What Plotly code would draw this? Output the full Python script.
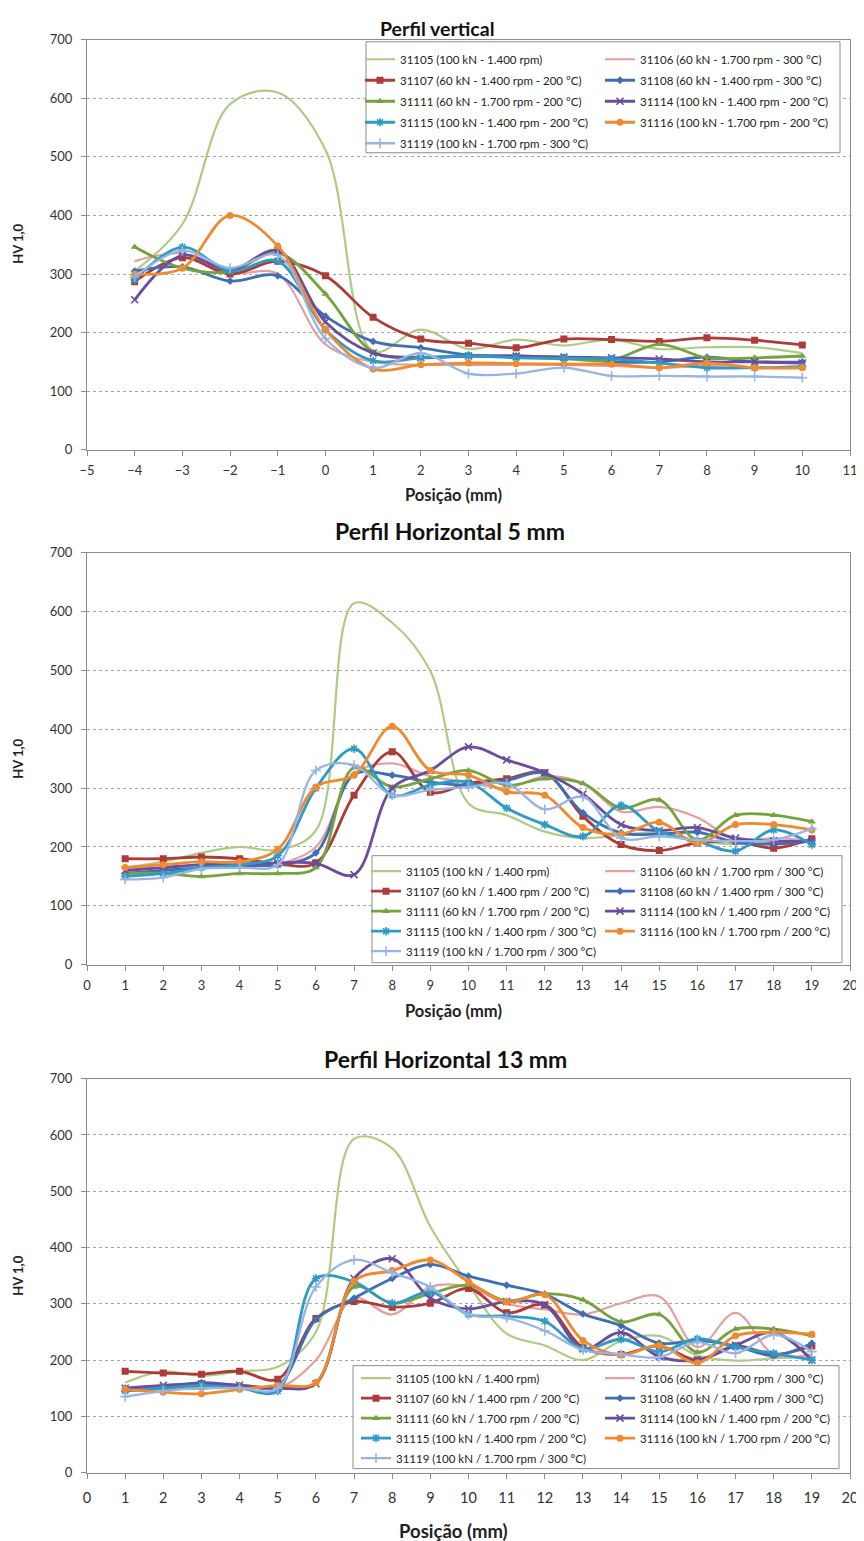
import plotly.graph_objects as go

# ---------------- DATA ----------------
x_vert = [-4, -3, -2, -1, 0, 1, 2, 3, 4, 5, 6, 7, 8, 9, 10]
x_horiz = list(range(1, 20))

series_ids = ["31105", "31106", "31107", "31108", "31111", "31114", "31115", "31116", "31119"]

names_vert = [
    "31105 (100 kN - 1.400 rpm)",
    "31106 (60 kN - 1.700 rpm - 300 °C)",
    "31107 (60 kN - 1.400 rpm - 200 °C)",
    "31108 (60 kN - 1.400 rpm - 300 °C)",
    "31111 (60 kN - 1.700 rpm - 200 °C)",
    "31114 (100 kN - 1.400 rpm - 200 °C)",
    "31115 (100 kN - 1.400 rpm - 200 °C)",
    "31116 (100 kN - 1.700 rpm - 200 °C)",
    "31119 (100 kN - 1.700 rpm - 300 °C)",
]
names_horiz = [
    "31105 (100 kN / 1.400 rpm)",
    "31106 (60 kN / 1.700 rpm / 300 °C)",
    "31107 (60 kN / 1.400 rpm / 200 °C)",
    "31108 (60 kN / 1.400 rpm / 300 °C)",
    "31111 (60 kN / 1.700 rpm / 200 °C)",
    "31114 (100 kN / 1.400 rpm / 200 °C)",
    "31115 (100 kN / 1.400 rpm / 300 °C)",
    "31116 (100 kN / 1.700 rpm / 200 °C)",
    "31119 (100 kN / 1.700 rpm / 300 °C)",
]
names_horiz13 = [
    "31105 (100 kN / 1.400 rpm)",
    "31106 (60 kN / 1.700 rpm / 300 °C)",
    "31107 (60 kN / 1.400 rpm / 200 °C)",
    "31108 (60 kN / 1.400 rpm / 300 °C)",
    "31111 (60 kN / 1.700 rpm / 200 °C)",
    "31114 (100 kN / 1.400 rpm / 200 °C)",
    "31115 (100 kN / 1.400 rpm / 200 °C)",
    "31116 (100 kN / 1.700 rpm / 200 °C)",
    "31119 (100 kN / 1.700 rpm / 300 °C)",
]

# Perfil vertical
v_31105 = [305, 385, 590, 610, 512, 168, 205, 172, 188, 178, 188, 172, 175, 175, 165]
v_31106 = [322, 335, 302, 300, 180, 150, 145, 145, 145, 145, 143, 140, 143, 140, 140]
v_31107 = [287, 328, 300, 322, 297, 226, 189, 182, 174, 189, 188, 185, 191, 187, 179]
v_31108 = [305, 312, 288, 297, 228, 185, 174, 162, 160, 158, 150, 150, 158, 150, 150]
v_31111 = [346, 310, 304, 336, 266, 167, 158, 160, 158, 155, 153, 180, 157, 157, 160]
v_31114 = [256, 332, 306, 340, 218, 165, 157, 160, 160, 158, 157, 155, 150, 150, 148]
v_31115 = [290, 346, 305, 322, 205, 152, 157, 160, 157, 156, 155, 148, 140, 140, 142]
v_31116 = [300, 310, 400, 348, 205, 138, 145, 148, 147, 146, 146, 140, 148, 140, 140]
v_31119 = [295, 340, 310, 332, 190, 140, 165, 130, 130, 140, 126, 126, 125, 125, 123]

# Perfil Horizontal 5 mm
h5_31105 = [165, 175, 190, 200, 195, 228, 614, 581, 499, 274, 254, 226, 215, 220, 225, 210, 205, 208, 212]
h5_31106 = [165, 165, 170, 175, 172, 200, 325, 342, 320, 310, 300, 320, 308, 260, 268, 250, 212, 215, 210]
h5_31107 = [180, 180, 183, 180, 171, 173, 288, 362, 293, 308, 316, 326, 252, 204, 194, 207, 210, 198, 214]
h5_31108 = [155, 160, 165, 168, 170, 190, 323, 322, 310, 305, 313, 325, 258, 224, 222, 225, 208, 205, 210]
h5_31111 = [155, 155, 150, 155, 155, 165, 335, 302, 316, 330, 305, 316, 308, 266, 280, 212, 254, 254, 243]
h5_31114 = [160, 165, 170, 170, 173, 172, 153, 300, 330, 370, 348, 326, 290, 238, 228, 233, 215, 210, 210]
h5_31115 = [150, 155, 165, 170, 185, 300, 367, 288, 305, 310, 266, 238, 218, 271, 226, 210, 193, 229, 204]
h5_31116 = [165, 170, 175, 175, 196, 302, 322, 405, 330, 322, 294, 288, 233, 222, 242, 206, 238, 238, 229]
h5_31119 = [145, 148, 163, 165, 170, 330, 339, 288, 297, 302, 308, 264, 285, 215, 218, 212, 210, 212, 231]

# Perfil Horizontal 13 mm
h13_31105 = [160, 180, 172, 180, 188, 250, 593, 576, 437, 335, 247, 226, 200, 234, 243, 208, 199, 203, 205]
h13_31106 = [150, 150, 152, 155, 150, 200, 310, 281, 330, 330, 300, 290, 281, 301, 313, 223, 284, 210, 210]
h13_31107 = [180, 177, 175, 180, 166, 274, 304, 294, 301, 327, 284, 298, 222, 210, 225, 200, 225, 210, 225]
h13_31108 = [150, 152, 160, 155, 155, 272, 310, 345, 370, 349, 333, 317, 282, 261, 230, 235, 225, 208, 230]
h13_31111 = [145, 150, 150, 155, 150, 160, 330, 301, 318, 333, 305, 318, 307, 268, 281, 214, 255, 255, 243]
h13_31114 = [150, 155, 158, 155, 150, 158, 345, 380, 310, 291, 304, 298, 220, 249, 206, 200, 226, 249, 200]
h13_31115 = [145, 150, 155, 150, 145, 345, 339, 301, 321, 281, 278, 269, 220, 237, 215, 238, 223, 212, 200]
h13_31116 = [148, 143, 140, 148, 155, 160, 340, 359, 378, 339, 303, 316, 235, 209, 226, 195, 243, 249, 246]
h13_31119 = [135, 145, 150, 150, 150, 330, 378, 355, 330, 281, 275, 252, 218, 210, 205, 232, 212, 245, 215]

y_ticks = [0, 100, 200, 300, 400, 500, 600, 700]
x_ticks_vert = list(range(-5, 12))
x_ticks_horiz = list(range(0, 21))

# ---------------- STYLE ----------------
FONT = "Lato"
OFF = 8                      # default body margin of the html page
W, H = 864 - OFF, 1541 - OFF
PLOT_L, PLOT_R = 87, 850     # page pixels
ML = PLOT_L - OFF
MR = W - (PLOT_R - OFF)
PW = PLOT_R - PLOT_L

def px_x(p):
    return (p - PLOT_L) / PW

def vy(p):
    # small vertical stretch correction
    return 1.01046 * p - 7.4

def px_y(p):
    return 1 - (vy(p) - OFF) / H

styles = {
    "31105": dict(color="#AECB84", width=2.2, symbol=None, size=0),
    "31106": dict(color="#E4A09E", width=2.2, symbol=None, size=0),
    "31107": dict(color="#AE3B38", width=2.8, symbol="square", size=7),
    "31108": dict(color="#3F6EB5", width=2.8, symbol="diamond", size=6),
    "31111": dict(color="#76A33E", width=2.8, symbol="triangle-up", size=7),
    "31114": dict(color="#6B4C9E", width=2.8, symbol="x-thin", size=7),
    "31115": dict(color="#2E9BC6", width=2.8, symbol="asterisk", size=7),
    "31116": dict(color="#F08A2E", width=2.8, symbol="circle", size=7),
    "31119": dict(color="#98B4E2", width=2.3, symbol="cross-thin", size=7),
}

left_col = ["31105", "31107", "31111", "31115", "31119"]

domains = {
    1: [px_y(449), px_y(39)],
    2: [px_y(964), px_y(552)],
    3: [px_y(1472), px_y(1078)],
}

fig = go.Figure()

charts = [
    (1, x_vert, [v_31105, v_31106, v_31107, v_31108, v_31111, v_31114, v_31115, v_31116, v_31119], names_vert, ("legend", "legend2")),
    (2, x_horiz, [h5_31105, h5_31106, h5_31107, h5_31108, h5_31111, h5_31114, h5_31115, h5_31116, h5_31119], names_horiz, ("legend3", "legend4")),
    (3, x_horiz, [h13_31105, h13_31106, h13_31107, h13_31108, h13_31111, h13_31114, h13_31115, h13_31116, h13_31119], names_horiz13, ("legend5", "legend6")),
]

for idx, xs, ys_list, names, legs in charts:
    xa = "x" if idx == 1 else f"x{idx}"
    ya = "y" if idx == 1 else f"y{idx}"
    for sid, ys, nm in zip(series_ids, ys_list, names):
        st = styles[sid]
        if st["symbol"] is None:
            mode = "lines"
            marker = None
        else:
            mode = "lines+markers"
            open_sym = st["symbol"] in ("x-thin", "asterisk", "cross-thin")
            marker = dict(symbol=st["symbol"], size=st["size"], color=st["color"],
                          line=dict(color=st["color"], width=1.6 if open_sym else 0))
        fig.add_trace(go.Scatter(
            x=xs, y=ys, name=nm, mode=mode, xaxis=xa, yaxis=ya,
            line=dict(color=st["color"], width=st["width"], shape="spline", smoothing=1),
            marker=marker,
            legend=legs[0] if sid in left_col else legs[1],
            legendgroup=f"{idx}_{sid}",
            hoverinfo="skip",
        ))

axis_common = dict(
    showline=True, linecolor="#8C8C8C", linewidth=1, mirror=True,
    ticks="outside", ticklen=5, tickcolor="#8C8C8C",
    tickfont=dict(family=FONT, size=13, color="#333333"),
    zeroline=False,
)

layout = dict(
    width=W, height=H,
    margin=dict(l=ML, r=MR, t=0, b=0),
    paper_bgcolor="white", plot_bgcolor="white",
    showlegend=True,
    font=dict(family=FONT, color="#222222"),
)

for idx in (1, 2, 3):
    xkey = "xaxis" if idx == 1 else f"xaxis{idx}"
    ykey = "yaxis" if idx == 1 else f"yaxis{idx}"
    yanchor_name = "y" if idx == 1 else f"y{idx}"
    xanchor_name = "x" if idx == 1 else f"x{idx}"
    if idx == 1:
        xr, xt = [-5, 11], x_ticks_vert
    else:
        xr, xt = [0, 20], x_ticks_horiz
    layout[xkey] = dict(axis_common, range=xr, tickvals=xt, showgrid=False,
                        domain=[0, 1], anchor=yanchor_name,
                        ticklabelstandoff=4 if idx < 3 else 7,
                        tickfont=dict(family=FONT, size=13 if idx < 3 else 14.5, color="#333333"))
    layout[ykey] = dict(axis_common, range=[0, 700], tickvals=y_ticks, showgrid=True,
                        gridcolor="#A6A6A6", griddash="dot", gridwidth=1,
                        domain=domains[idx], anchor=xanchor_name, ticklabelstandoff=6)

# (left x, top y, group gap) in page pixels
legend_pos = {
    "legend": (360, 44, 2), "legend2": (600, 44, 2),
    "legend3": (366, 856, 1), "legend4": (600, 856, 1),
    "legend5": (356, 1363, 1), "legend6": (600, 1363, 1),
}
for lk, (lx, ly, gap) in legend_pos.items():
    layout[lk] = dict(
        x=px_x(lx), y=px_y(ly), xanchor="left", yanchor="top",
        bgcolor="rgba(0,0,0,0)", borderwidth=0,
        font=dict(family=FONT, size=11.5, color="#222222"),
        traceorder="grouped", tracegroupgap=gap, itemwidth=30,
    )

fig.update_layout(**layout)

# legend frames (page pixels)
boxes = [(366, 41, 840, 152), (372, 855, 842, 962), (353, 1365, 839, 1468)]
for x0, y0, x1, y1 in boxes:
    fig.add_shape(type="rect", xref="paper", yref="paper",
                  x0=px_x(x0), x1=px_x(x1), y0=px_y(y1), y1=px_y(y0),
                  line=dict(color="#8C8C8C", width=1), fillcolor="white", layer="above")

# titles (the first one sits at the very top edge of the figure)
fig.add_annotation(text="<b>Perfil vertical</b>", x=px_x(437), y=1.0, xref="paper", yref="paper",
                   showarrow=False, xanchor="center", yanchor="top", borderpad=0,
                   font=dict(family=FONT, size=19.5, color="#111111"))
titles = [("Perfil Horizontal 5 mm", 450, 530), ("Perfil Horizontal 13 mm", 445, 1058)]
for t, cx, cy in titles:
    fig.add_annotation(text=f"<b>{t}</b>", x=px_x(cx), y=px_y(cy), xref="paper", yref="paper",
                       showarrow=False, xanchor="center", yanchor="middle",
                       font=dict(family=FONT, size=23, color="#111111"))

for cy, fs in ((494, 16.5), (1010, 16.5), (1530, 18.5)):
    fig.add_annotation(text="<b>Posição (mm)</b>", x=px_x(453), y=px_y(cy), xref="paper", yref="paper",
                       showarrow=False, xanchor="center", yanchor="middle",
                       font=dict(family=FONT, size=fs, color="#222222"))

for cy in (243, 758, 1275):
    fig.add_annotation(text="<b>HV 1,0</b>", x=px_x(18), y=px_y(cy), xref="paper", yref="paper",
                       showarrow=False, xanchor="center", yanchor="middle", textangle=-90,
                       font=dict(family=FONT, size=13, color="#222222"))

fig.write_html("out.html")
